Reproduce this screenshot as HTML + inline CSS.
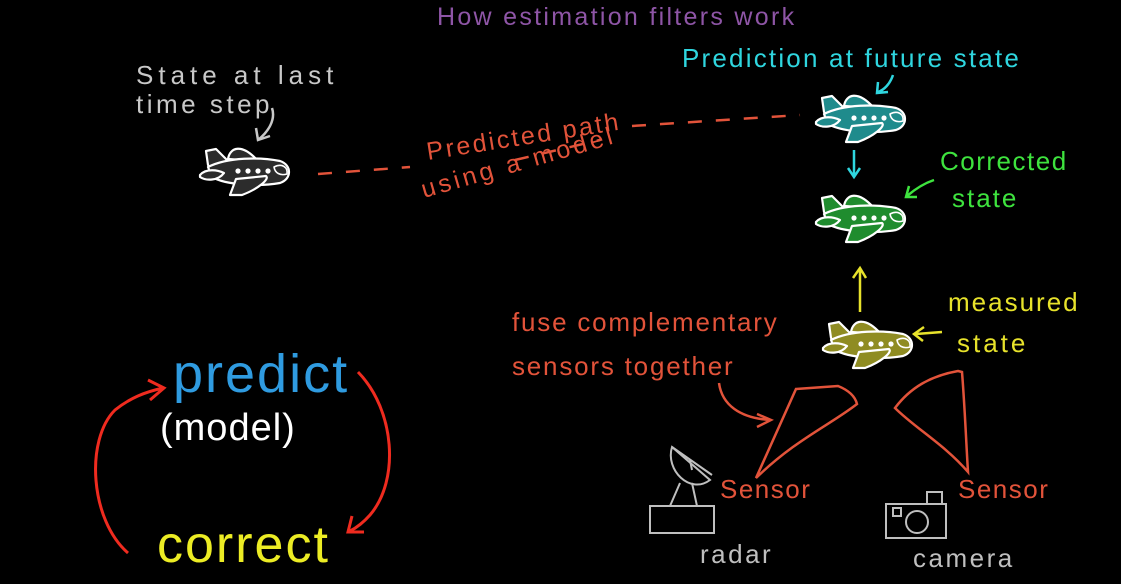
<!DOCTYPE html>
<html><head><meta charset="utf-8"><style>
html,body{margin:0;padding:0;background:#000;}
svg{display:block;}
text{font-family:"Liberation Sans",sans-serif;}
</style></head><body>
<svg width="1121" height="584" viewBox="0 0 1121 584" xmlns="http://www.w3.org/2000/svg">
<defs>
<g id="pl" stroke="#fff" stroke-width="2.2" stroke-linejoin="round">
  <path d="M8 8 L18 6 L32 20 L16 30 L10 22 Z"/>
  <path d="M30 16 C32 4 44 0 60 18 Z"/>
  <path d="M10 24 C30 14 62 14 82 18 C94 22 94 36 82 40 C60 44 28 42 14 34 Z"/>
  <path d="M2 32 C8 25 20 27 26 30 C20 38 8 38 2 34 Z"/>
  <path d="M38 36 L68 33 C72 36 60 46 44 52 L32 52 Z"/>
  <circle cx="40" cy="28" r="2.6" fill="#fff" stroke="none"/><circle cx="50" cy="28" r="2.6" fill="#fff" stroke="none"/><circle cx="60" cy="28" r="2.6" fill="#fff" stroke="none"/><circle cx="70" cy="28" r="2.6" fill="#fff" stroke="none"/>
  <path d="M76 24 C84 20 90 24 89 31 C82 33 77 30 76 24 Z" fill="none" stroke-width="1.6"/>
</g>
</defs>
<rect width="1121" height="584" fill="#000"/>

<text x="437" y="25" font-size="25" fill="#8e55a6" letter-spacing="2.3">How estimation filters work</text>

<text x="136" y="84" font-size="26" fill="#c8c8c8" letter-spacing="5">State at last</text>
<text x="136" y="113" font-size="26" fill="#c8c8c8" letter-spacing="3.5">time step</text>
<path d="M272 108 C276 120 268 132 258 140 M256 128 L258 140 L270 136" fill="none" stroke="#c8c8c8" stroke-width="2.5"/>

<g fill="#2c2c2c"><use href="#pl" transform="translate(198,143)"/></g>
<g fill="#1f8b8c"><use href="#pl" transform="translate(814,90)"/></g>
<g fill="#1f8c2e"><use href="#pl" transform="translate(814,190)"/></g>
<g fill="#8f8c22"><use href="#pl" transform="translate(821,316)"/></g>

<line x1="318" y1="174" x2="410" y2="167" stroke="#e2533a" stroke-width="2.5" stroke-dasharray="14 14"/>
<line x1="515" y1="160" x2="600" y2="140" stroke="#e2533a" stroke-width="2.5" stroke-dasharray="14 14"/>
<line x1="632" y1="126" x2="800" y2="115" stroke="#e2533a" stroke-width="2.5" stroke-dasharray="14 14"/>
<text x="428" y="160" font-size="25" fill="#e2533a" letter-spacing="2.5" transform="rotate(-9 428 160)">Predicted path</text>
<text x="424" y="198" font-size="25" fill="#e2533a" letter-spacing="3.5" transform="rotate(-16 424 198)">using a model</text>

<text x="682" y="67" font-size="26" fill="#2fd6df" letter-spacing="2.2">Prediction at future state</text>
<path d="M893 75 C890 84 884 90 878 92 M878 82 L877 93 L888 92" fill="none" stroke="#2fd6df" stroke-width="2.5"/>
<path d="M854 150 L854 176 M848 168 L854 177 L860 168" fill="none" stroke="#2fd6df" stroke-width="2.5"/>

<text x="940" y="170" font-size="26" fill="#3ee33e" letter-spacing="1.5">Corrected</text>
<text x="952" y="207" font-size="26" fill="#3ee33e" letter-spacing="2">state</text>
<path d="M934 180 C922 184 914 190 907 196 M909 186 L906 197 L917 197" fill="none" stroke="#3ee33e" stroke-width="2.5"/>

<path d="M860 312 L860 270 M853 278 L860 268 L866 278" fill="none" stroke="#e7e22b" stroke-width="2.5"/>
<text x="948" y="311" font-size="26" fill="#e7e22b" letter-spacing="2">measured</text>
<text x="957" y="352" font-size="26" fill="#e7e22b" letter-spacing="3">state</text>
<path d="M942 332 L916 334 M924 327 L914 334 L923 341" fill="none" stroke="#e7e22b" stroke-width="2.5"/>

<text x="512" y="331" font-size="26" fill="#e2533a" letter-spacing="1.8">fuse complementary</text>
<text x="512" y="375" font-size="26" fill="#e2533a" letter-spacing="1.8">sensors together</text>
<path d="M719 383 C722 405 740 418 770 420 M757 414 L771 420 L757 427" fill="none" stroke="#e2533a" stroke-width="2.5"/>

<path d="M796 389 L838 386 C848 390 855 396 857 404 C830 425 795 440 756 478 Z" fill="none" stroke="#e2533a" stroke-width="2.5"/>
<path d="M958 371 L962 372 C965 410 966 440 968 472 C945 445 915 428 895 408 C910 388 930 376 958 371 Z" fill="none" stroke="#e2533a" stroke-width="2.5"/>
<text x="720" y="498" font-size="26" fill="#e2533a" letter-spacing="1.5">Sensor</text>
<text x="958" y="498" font-size="26" fill="#e2533a" letter-spacing="1.5">Sensor</text>

<g fill="none" stroke="#bfbfbf" stroke-width="2">
<path d="M672 447 C665 470 690 495 710 480 Z"/>
<path d="M672 447 L712 475 M690 460 L692 470"/>
<path d="M680 483 L670 506 M692 483 L697 506"/>
<rect x="650" y="506" width="64" height="27"/>
<rect x="886" y="504" width="60" height="34"/>
<rect x="927" y="492" width="15" height="12"/>
<rect x="893" y="508" width="8" height="8"/>
<circle cx="917" cy="522" r="11"/>
</g>
<text x="700" y="563" font-size="26" fill="#bfbfbf" letter-spacing="2.5">radar</text>
<text x="913" y="567" font-size="26" fill="#bfbfbf" letter-spacing="2.5">camera</text>

<text x="173" y="392" font-size="54" fill="#2f9be0" letter-spacing="2">predict</text>
<text x="160" y="440" font-size="38" fill="#ffffff" letter-spacing="1">(model)</text>
<text x="157" y="562" font-size="52" fill="#ecec24" letter-spacing="2">correct</text>
<path d="M128 553 C90 520 85 440 115 410 C130 398 145 392 163 388 M148 380 L164 388 L150 400" fill="none" stroke="#ef2b1f" stroke-width="3"/>
<path d="M358 372 C395 410 400 480 370 515 C362 524 356 528 350 531 M352 516 L348 532 L364 532" fill="none" stroke="#ef2b1f" stroke-width="3"/>
</svg>
</body></html>
